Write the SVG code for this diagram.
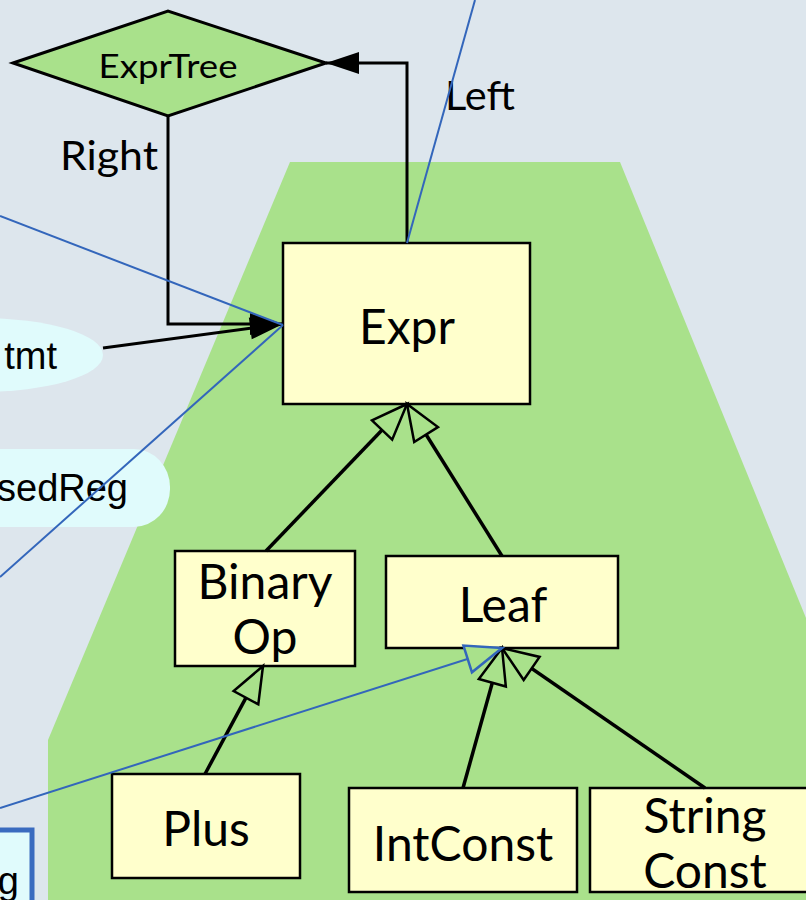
<svg xmlns="http://www.w3.org/2000/svg" width="806" height="900" viewBox="0 0 806 900">
  <style>
    .cls { fill: #ffffcc; stroke: #000; stroke-width: 2.5; }
    .lbl { font-family: Lato, "Open Sans", sans-serif; fill: #000; text-anchor: middle; }
    .node { font-size: 48px; }
    .edge-lbl { font-family: Lato, "Open Sans", sans-serif; font-size: 40px; fill: #000; }
    .ext { font-family: "Liberation Sans", Arial, sans-serif; font-size: 38px; fill: #000; }
    .inh { fill: none; stroke: #000; stroke-width: 3.5; marker-end: url(#hollow); }
    .assoc { fill: none; stroke: #000; stroke-width: 3; marker-end: url(#solid); }
    .ref { fill: none; stroke: #3366bb; stroke-width: 2; }
  </style>
  <defs>
    <marker id="hollow" markerUnits="userSpaceOnUse" markerWidth="80" markerHeight="80" refX="0" refY="0" orient="auto" overflow="visible">
      <path d="M0,0 L-36,-14 L-36,14 Z" fill="#a9e18b" stroke="#000" stroke-width="2.5" stroke-linejoin="miter"/>
    </marker>
    <marker id="hollow-blue" markerUnits="userSpaceOnUse" markerWidth="80" markerHeight="80" refX="0" refY="0" orient="auto" overflow="visible">
      <path d="M0,0 L-36,-14 L-36,14 Z" fill="#a9e18b" stroke="#3366bb" stroke-width="2.5"/>
    </marker>
    <marker id="solid" markerUnits="userSpaceOnUse" markerWidth="80" markerHeight="80" refX="0" refY="0" orient="auto" overflow="visible">
      <path d="M0,0 L-33,-11 L-33,11 Z" fill="#000"/>
    </marker>
  </defs>

  <!-- background and package region -->
  <rect x="0" y="0" width="806" height="900" fill="#dde6ed"/>
  <polygon points="290,162 620,162 806,618 806,900 48,900 48,740" fill="#a9e18b"/>

  <!-- neighbouring elements -->
  <g id="stmt">
    <ellipse cx="-20" cy="355" rx="123" ry="37" fill="#e0fbfc"/>
    <text class="ext" x="57" y="369" text-anchor="end">tmt</text>
  </g>
  <g id="used-reg">
    <rect x="-60" y="449" width="230" height="78" rx="36" ry="38" fill="#e0fbfc"/>
    <text class="ext" x="128" y="501" text-anchor="end">sedReg</text>
  </g>
  <g id="reg-box">
    <rect x="-20" y="830" width="52" height="90" fill="#e0fbfc" stroke="#3a6bbf" stroke-width="5"/>
    <text class="ext" x="19" y="894" text-anchor="end">g</text>
  </g>

  <!-- classes -->
  <g id="expr-tree">
    <polygon points="13,63 168,11 326,63 168,116" fill="#a9e18b" stroke="#000" stroke-width="3"/>
    <text class="lbl" x="168" y="78" font-size="33" textLength="139" lengthAdjust="spacingAndGlyphs">ExprTree</text>
  </g>
  <g id="expr">
    <rect class="cls" x="283" y="243" width="247" height="161"/>
    <text class="lbl node" x="407" y="344">Expr</text>
  </g>
  <g id="binary-op">
    <rect class="cls" x="175" y="551" width="180" height="115"/>
    <text class="lbl node" x="265" y="599">Binary</text>
    <text class="lbl node" x="265" y="654">Op</text>
  </g>
  <g id="leaf">
    <rect class="cls" x="386" y="556" width="232" height="92"/>
    <text class="lbl node" x="503" y="622">Leaf</text>
  </g>
  <g id="plus">
    <rect class="cls" x="112" y="774" width="188" height="104"/>
    <text class="lbl node" x="206" y="846">Plus</text>
  </g>
  <g id="int-const">
    <rect class="cls" x="349" y="788" width="228" height="104"/>
    <text class="lbl node" x="463" y="861">IntConst</text>
  </g>
  <g id="string-const">
    <rect class="cls" x="590" y="788" width="240" height="104"/>
    <text class="lbl node" x="705" y="833">String</text>
    <text class="lbl node" x="705" y="888">Const</text>
  </g>

  <!-- connectors -->
  <g id="connectors">
    <polyline class="assoc" points="407,243 407,63 326,63"/>
    <polyline class="assoc" points="168,116 168,324 283,324"/>
    <line class="assoc" x1="103" y1="348" x2="283" y2="324"/>
    <text class="edge-lbl" x="445" y="110" textLength="70" lengthAdjust="spacingAndGlyphs">Left</text>
    <text class="edge-lbl" x="60" y="170" textLength="98" lengthAdjust="spacingAndGlyphs">Right</text>

    <line class="inh" x1="266" y1="551" x2="407" y2="404"/>
    <line class="inh" x1="502" y1="556" x2="407" y2="404"/>
    <line class="inh" x1="205" y1="774" x2="263" y2="666"/>
    <line class="inh" x1="463" y1="788" x2="502" y2="648"/>
    <line class="inh" x1="705" y1="788" x2="502" y2="648"/>

    <line class="ref" x1="0" y1="216" x2="283" y2="325"/>
    <line class="ref" x1="0" y1="577" x2="283" y2="325"/>
    <line class="ref" x1="407" y1="243" x2="475" y2="0"/>
    <line class="ref" x1="0" y1="808" x2="502" y2="648" stroke-width="3" marker-end="url(#hollow-blue)"/>
  </g>
</svg>
